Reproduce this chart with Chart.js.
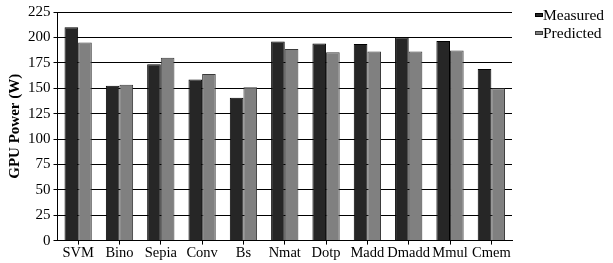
<!DOCTYPE html>
<html>
<head>
<meta charset="utf-8">
<script src="https://cdn.jsdelivr.net/npm/chart.js@4"></script>
<style>
  body { margin: 0; background: #fff; }
  #wrap { position: relative; width: 613px; height: 263px; }
  #legend { position: absolute; left: 535px; top: 6px; font-family: "Liberation Serif", serif; font-size: 15.5px; color: #000; }
  #legend div { height: 18px; line-height: 18px; white-space: nowrap; }
  #legend span { display: inline-block; width: 6px; height: 2px; border: 1px solid #000; vertical-align: middle; margin-right: 0px; position: relative; top: -1px; }
</style>
</head>
<body>
<div id="wrap">
  <canvas id="grafico" width="613" height="263"></canvas>
  <div id="legend"></div>
</div>
<script>
var categorias = ['SVM', 'Bino', 'Sepia', 'Conv', 'Bs', 'Nmat', 'Dotp', 'Madd', 'Dmadd', 'Mmul', 'Cmem'];
var medido = [210, 152.5, 173.5, 158.5, 140.5, 196, 194, 193.5, 200, 196.5, 169];
var predicho = [195, 153.5, 180, 164, 151, 188.5, 185.5, 186, 186, 187, 150];
var series = ['Measured', 'Predicted'];
var colores = ['#262626', '#808080'];
var bordes = ['#000000', '#3a3a3a'];

var serif = "'Liberation Serif', 'Times New Roman', serif";

var ctx = document.getElementById("grafico").getContext("2d");
var grafico = new Chart(ctx, {
    type: 'bar',
    data: {
        labels: categorias,
        datasets: [{
            label: series[0],
            data: medido,
            backgroundColor: colores[0],
            borderColor: bordes[0],
            borderWidth: 1
        }, {
            label: series[1],
            data: predicho,
            backgroundColor: colores[1],
            borderColor: bordes[1],
            borderWidth: 1
        }]
    },
    options: {
        responsive: false,
        animation: false,
        layout: { padding: { top: 9, right: 101, left: 5, bottom: 1 } },
        categoryPercentage: 0.66,
        barPercentage: 1.0,
        plugins: {
            legend: { display: false },
            tooltip: { enabled: false }
        },
        scales: {
            x: {
                grid: { display: true, drawOnChartArea: false, offset: false, color: '#000', tickLength: 4 },
                border: { color: '#000' },
                ticks: { color: '#000', font: { family: serif, size: 14.5 }, padding: 0, maxRotation: 0, autoSkip: false }
            },
            y: {
                min: 0,
                max: 225,
                ticks: { stepSize: 25, color: '#000', font: { family: serif, size: 15 }, padding: 3 },
                grid: { color: '#000', lineWidth: 1, tickLength: 4 },
                border: { color: '#000' },
                title: { display: true, text: 'GPU Power (W)', color: '#000', font: { family: serif, size: 15, weight: 'bold' }, padding: 1 }
            }
        }
    }
});

var leyenda = document.getElementById("legend");
for (var i = 0; i < series.length; i++) {
    var fila = document.createElement("div");
    var caja = document.createElement("span");
    caja.style.background = colores[i];
    caja.style.borderColor = bordes[i];
    fila.appendChild(caja);
    fila.appendChild(document.createTextNode(series[i]));
    leyenda.appendChild(fila);
}
</script>
</body>
</html>
